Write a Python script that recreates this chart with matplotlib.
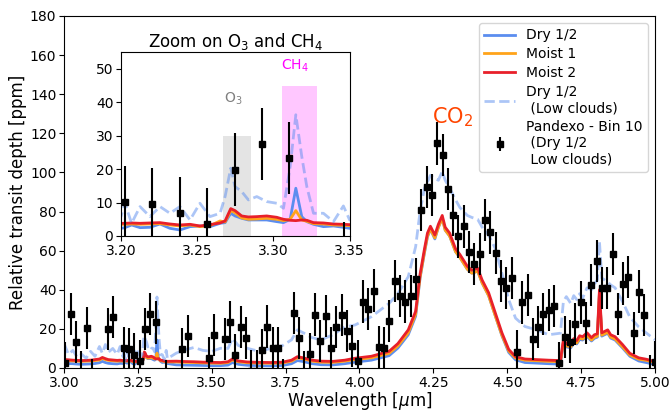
"""Transit spectra of the Dry/Moist models with a zoom on the O3 and CH4 bands."""

import numpy as np
import matplotlib
matplotlib.use("Agg")
import matplotlib.pyplot as plt

# Model spectra (ppm), one shared wavelength grid (um)
wl_model = [
    3.00, 3.015, 3.03, 3.045, 3.06, 3.075, 3.09, 3.105, 3.12, 3.13,
    3.14, 3.15, 3.165, 3.18, 3.19,
    3.2, 3.2026, 3.2070, 3.2125, 3.2190, 3.2256, 3.2321, 3.2387, 3.2453, 3.2518,
    3.2584, 3.2650, 3.2683, 3.2720, 3.2748, 3.2792, 3.2836, 3.2891, 3.2956, 3.3022,
    3.3066, 3.3110, 3.3147, 3.3186, 3.3219, 3.3263, 3.3328, 3.3394, 3.3459, 3.35,
    3.38, 3.41, 3.44, 3.47, 3.50, 3.53, 3.555, 3.57, 3.59, 3.62,
    3.66, 3.70, 3.74, 3.77, 3.79, 3.81, 3.84, 3.87, 3.91, 3.95,
    3.985, 4.04, 4.10, 4.13, 4.165, 4.19, 4.205, 4.22, 4.23, 4.24,
    4.255, 4.267, 4.28, 4.29, 4.305, 4.325, 4.34, 4.365, 4.38, 4.40,
    4.415, 4.437, 4.46, 4.482, 4.505, 4.528, 4.56, 4.60, 4.64,
    4.68, 4.69, 4.70, 4.715, 4.725, 4.735, 4.745, 4.755, 4.77, 4.785,
    4.795, 4.805, 4.812, 4.82, 4.84, 4.85, 4.865, 4.89, 4.915, 4.945,
    4.97, 5.00,
]

dry = [
    2.5, 2.3, 2.2, 2.0, 1.9, 2.0, 2.1, 2.3, 2.7, 3.4,
    2.8, 2.4, 2.2, 2.1, 2.4,
    2.3, 2.5, 3.3, 2.5, 2.6, 3.6, 2.3, 1.8, 2.8, 3.0,
    2.8, 3.8, 4.0, 6.8, 6.0, 5.3, 4.8, 4.8, 4.8, 4.3,
    4.0, 5.0, 14.3, 5.8, 4.3, 3.5, 2.8, 3.0, 2.6, 2.3,
    1.6, 1.5, 1.4, 1.3, 1.2, 1.2, 1.5, 2.8, 1.9, 1.4,
    1.2, 1.1, 1.3, 2.2, 3.8, 3.3, 2.2, 1.7, 1.6, 2.2,
    3.0, 4.0, 6.3, 10.2, 17.0, 26.5, 46.0, 59.0, 67.0, 71.0,
    66.0, 72.0, 76.5, 70.5, 67.5, 59.5, 56.5, 50.5, 48.5, 49.5,
    43.5, 37.0, 26.5, 16.5, 8.0, 4.2, 2.8, 2.5, 2.2,
    2.0, 12.8, 10.8, 10.3, 13.0, 12.3, 14.6, 14.3, 16.2, 13.8,
    15.2, 15.8, 38.0, 16.3, 17.8, 15.3, 14.3, 10.3, 6.0, 3.6,
    2.8, 1.8,
]

moist1 = [
    3.9, 3.7, 3.6, 3.5, 3.4, 3.5, 3.6, 3.8, 4.1, 4.9,
    4.3, 3.9, 3.7, 3.5, 3.6,
    3.5, 3.5, 3.6, 3.5, 3.6, 3.7, 3.3, 3.0, 3.3, 2.8,
    3.1, 4.5, 4.2, 7.6, 7.0, 5.4, 5.0, 5.1, 5.3, 5.0,
    4.6, 5.0, 7.6, 4.8, 4.4, 3.7, 3.6, 3.3, 3.2, 3.1,
    3.1, 2.9, 2.8, 2.6, 2.5, 2.4, 2.8, 4.1, 3.2, 2.7,
    2.5, 2.4, 2.6, 3.5, 5.2, 4.7, 3.5, 3.0, 2.9, 3.5,
    4.3, 5.2, 7.5, 11.3, 18.0, 27.5, 46.5, 59.5, 67.5, 71.0,
    66.5, 72.0, 76.5, 70.5, 67.5, 59.5, 56.5, 50.5, 48.5, 49.5,
    43.5, 37.0, 26.5, 16.8, 8.7, 5.1, 4.0, 3.7, 3.4,
    3.2, 13.3, 11.3, 10.8, 13.6, 12.8, 15.2, 14.8, 16.7, 14.3,
    15.7, 16.3, 38.5, 16.8, 18.3, 15.8, 14.8, 10.8, 6.6, 4.5,
    3.9, 2.8,
]

moist2 = [
    4.4, 4.2, 4.0, 3.9, 3.8, 3.9, 4.0, 4.3, 4.6, 5.4,
    4.8, 4.3, 4.1, 3.9, 4.0,
    3.8, 3.8, 3.9, 3.8, 3.9, 4.0, 3.6, 3.3, 3.5, 3.0,
    3.4, 3.9, 4.5, 8.2, 7.6, 6.0, 5.7, 5.8, 6.0, 5.6,
    5.0, 4.7, 4.6, 4.8, 4.7, 4.0, 3.9, 3.6, 3.5, 3.4,
    3.5, 3.3, 3.2, 3.0, 2.9, 2.8, 3.2, 4.6, 3.6, 3.1,
    2.9, 2.8, 3.0, 4.0, 5.8, 5.2, 4.0, 3.5, 3.4, 4.0,
    5.0, 6.0, 8.5, 12.5, 19.5, 29.0, 48.0, 61.0, 69.0, 72.5,
    68.0, 73.5, 78.0, 72.0, 69.0, 61.0, 58.0, 52.0, 50.0, 51.0,
    45.0, 38.5, 28.0, 18.0, 9.5, 5.8, 4.6, 4.3, 4.0,
    3.8, 14.5, 12.5, 12.0, 15.0, 14.0, 16.5, 16.0, 18.0, 15.5,
    17.0, 17.5, 40.0, 18.0, 19.5, 17.0, 16.0, 12.0, 7.5, 5.2,
    4.5, 3.3,
]

dry_low_clouds = [
    12.6, 7.0, 9.0, 5.5, 7.0, 5.0, 8.5, 6.0, 11.0, 7.5,
    12.0, 8.0, 10.0, 7.0, 11.0,
    5.8, 9.8, 3.8, 8.8, 5.8, 8.8, 6.8, 8.8, 4.8, 9.8,
    5.8, 6.8, 11.8, 20.3, 14.8, 13.3, 10.8, 11.8, 10.3, 9.8,
    8.3, 20.8, 36.3, 23.8, 14.8, 6.8, 6.8, 4.3, 9.0, 4.8,
    7.6, 9.3, 10.5, 9.0, 8.5, 10.1, 10.0, 15.2, 11.5, 10.1,
    8.5, 10.0, 11.5, 14.4, 19.5, 18.0, 15.5, 14.4, 17.0, 21.0,
    22.0, 26.2, 33.0, 38.0, 46.7, 62.0, 80.0, 92.0, 95.0, 98.5,
    97.0, 96.0, 100.5, 96.0, 92.0, 86.0, 82.0, 78.0, 77.0, 76.0,
    72.0, 68.0, 61.0, 48.5, 35.0, 25.5, 21.2, 19.5, 17.0,
    17.8, 34.0, 36.5, 33.0, 37.0, 35.0, 38.0, 35.7, 41.0, 40.0,
    43.0, 45.0, 64.7, 46.0, 44.0, 42.5, 41.0, 34.0, 26.0, 21.0,
    18.0, 14.4,
]

# Pandexo simulated observation, bin 10 (Dry 1/2, low clouds)
pandexo_wl = np.linspace(3.005, 5.0, 112)
pandexo_depth = [
    2.7, 27.5, 13.3, -2.0, 20.3, -6.0, -12.0, -11.0, 20.0, 26.0,
    -12.0, 10.1, 9.7, 6.9, 3.5, 19.9, 27.6, 23.3, -12.0, -6.5,
    -13.0, -12.0, 9.7, 16.2, -12.0, -13.0, -12.0, 5.3, 16.7, -12.0,
    15.0, 23.7, 6.7, 20.8, 15.5, -1.5, -1.5, 9.2, 21.2, 10.1,
    10.1, -6.0, -12.0, 28.0, 15.5, -2.0, 7.0, 27.3, 13.8, 26.6,
    10.4, 20.8, 27.2, 19.0, 11.1, 3.4, 34.0, 30.1, 39.6, 10.9,
    10.4, 24.1, 44.6, 36.9, 34.0, 36.9, 45.4, 80.9, 92.4, 88.6,
    114.8, 109.1, 91.5, 78.4, 67.3, 72.4, 59.4, 53.1, 58.4, 75.5,
    69.3, 58.7, 44.6, 40.8, 45.9, 8.4, 33.5, 37.4, 14.7, 20.8,
    27.5, 29.7, 31.8, 2.4, 16.0, 13.5, 22.4, 33.5, 23.2, 42.4,
    54.8, 41.1, 41.1, 58.2, 27.5, 43.2, 46.5, 17.8, 39.1, 27.2,
    -4.0, 3.0,
]
pandexo_err = 10.8

# Highlighted bands in the zoom: (start, end, height)
o3_band = (3.2667, 3.2851, 30)
ch4_band = (3.3056, 3.3284, 45)

C_DRY = "#5b8def"
C_MOIST1 = "#ffa31a"
C_MOIST2 = "#e8202a"


def draw_models(ax, lw):
    ax.plot(wl_model, dry, color=C_DRY, lw=lw, label="Dry 1/2")
    ax.plot(wl_model, moist1, color=C_MOIST1, lw=lw, label="Moist 1")
    ax.plot(wl_model, moist2, color=C_MOIST2, lw=lw, label="Moist 2")
    ax.plot(wl_model, dry_low_clouds, color=C_DRY, lw=lw, ls="--", alpha=0.5,
            label="Dry 1/2\n (Low clouds)")
    ax.errorbar(pandexo_wl, pandexo_depth, yerr=pandexo_err, fmt="s", color="k",
                ms=4.5, elinewidth=1.5, capsize=0,
                label="Pandexo - Bin 10\n (Dry 1/2\n Low clouds)")


fig = plt.figure(figsize=(6.72, 4.12), dpi=100)
ax = fig.add_axes([0.0952, 0.1068, 0.8795, 0.8544])
draw_models(ax, 2)
ax.set_xlim(3.0, 5.0)
ax.set_ylim(0, 180)
ax.set_xticks(np.arange(3.0, 5.01, 0.25))
ax.set_yticks(np.arange(0, 181, 20))
ax.tick_params(labelsize=10, pad=2)
ax.set_xlabel(r"Wavelength [$\mu$m]", fontsize=12, labelpad=0)
ax.set_ylabel("Relative transit depth [ppm]", fontsize=12, labelpad=2)
ax.text(4.314, 128, r"CO$_2$", color="orangered", fontsize=15,
        ha="center", va="center")
ax.legend(loc="upper right", fontsize=10, handlelength=2.2,
          borderaxespad=0.5, labelspacing=0.35)

# Inset zoom
axin = fig.add_axes([0.180, 0.4272, 0.3403, 0.4459])
axin.set_zorder(5)
axin.fill_between(o3_band[:2], 0, o3_band[2], color="lightgray", alpha=0.6, lw=0)
axin.fill_between(ch4_band[:2], 0, ch4_band[2], color="magenta", alpha=0.22, lw=0)
draw_models(axin, 2)
axin.set_xlim(3.2, 3.35)
axin.set_ylim(0, 55)
axin.set_xticks([3.20, 3.25, 3.30, 3.35])
axin.set_yticks(np.arange(0, 51, 10))
axin.tick_params(labelsize=10, pad=2)
axin.set_title(r"Zoom on O$_3$ and CH$_4$", fontsize=12, pad=4)
axin.text(3.2737, 41, r"O$_3$", color="gray", fontsize=10, ha="center", va="center")
axin.text(3.3141, 51, r"CH$_4$", color="magenta", fontsize=10, ha="center", va="center")

fig.savefig("out.png", dpi=100)
